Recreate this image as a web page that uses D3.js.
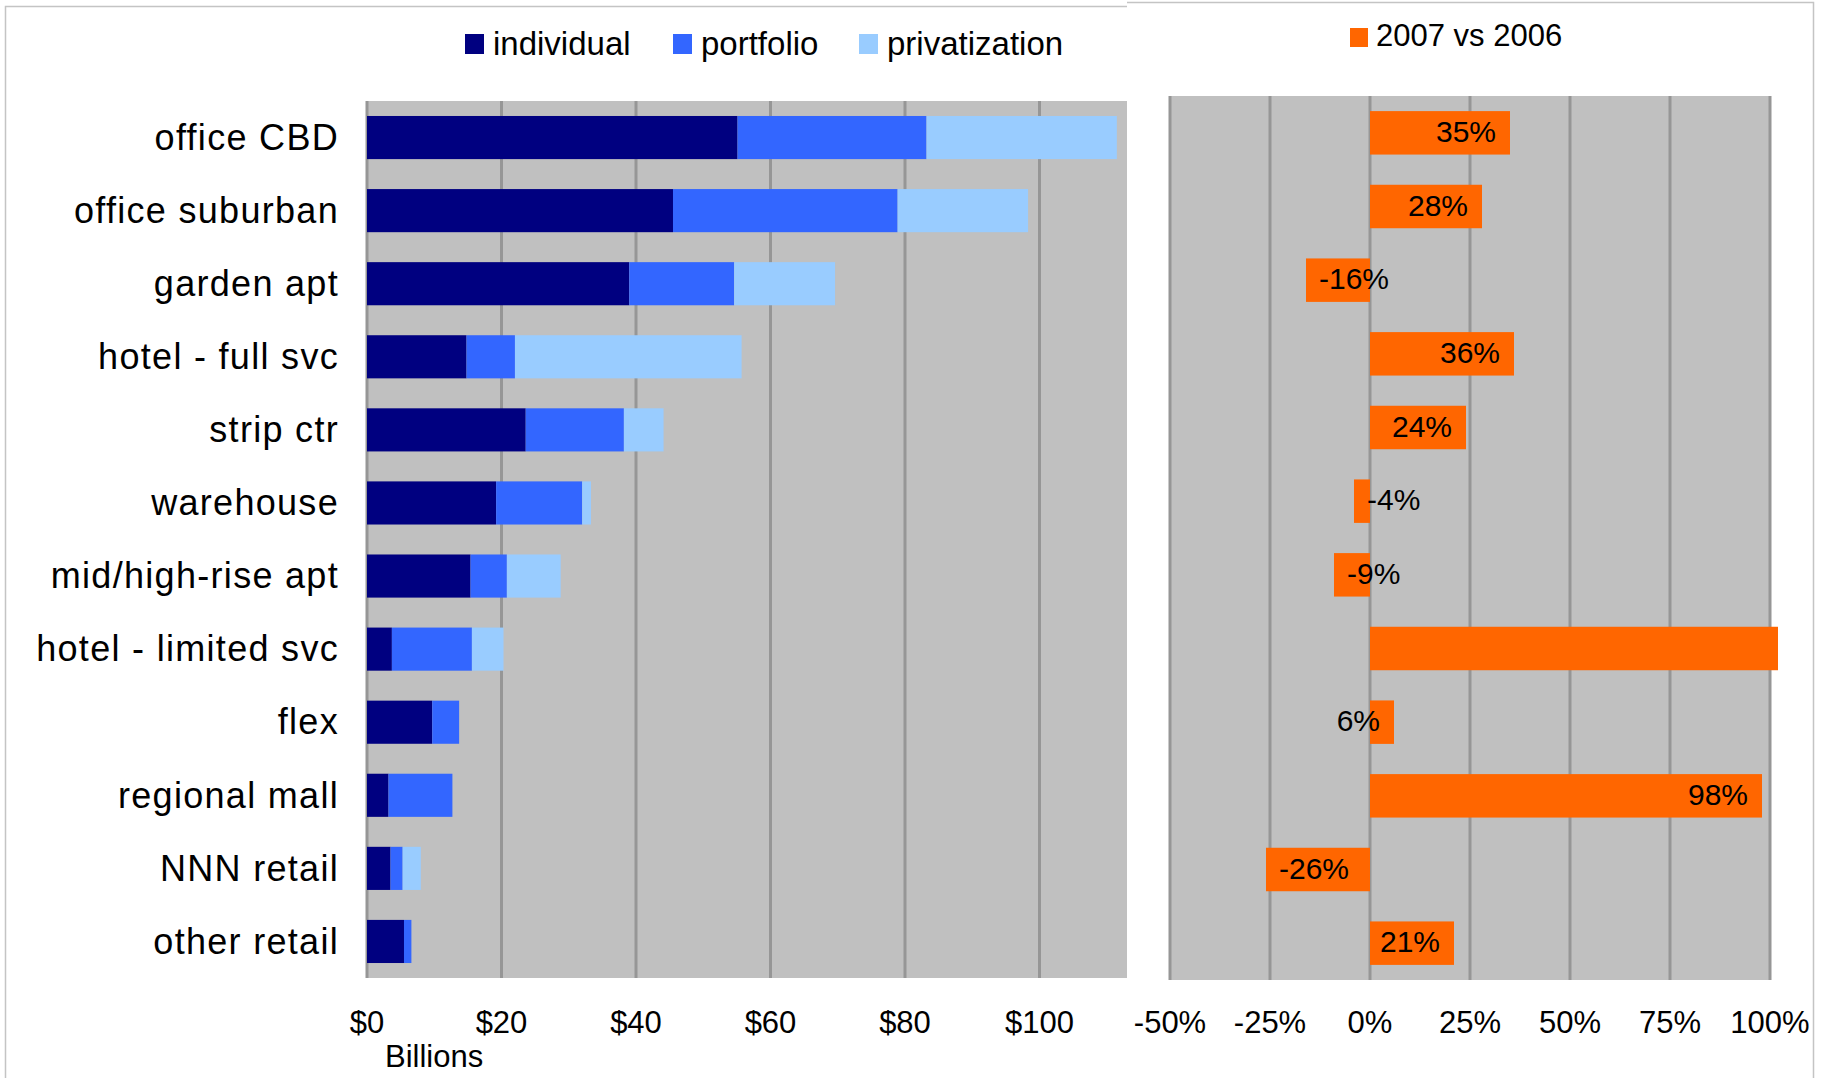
<!DOCTYPE html>
<html>
<head>
<meta charset="utf-8">
<script src="https://cdn.jsdelivr.net/npm/d3@7"></script>
<style>
  body { margin: 0; background: #fff; }
  text { font-family: "Liberation Sans", Arial, sans-serif; fill: #000; }
</style>
</head>
<body>
<div id="chart"></div>
<script>
// categories, top to bottom
var categories = ["office CBD", "office suburban", "garden apt", "hotel - full svc", "strip ctr",
  "warehouse", "mid/high-rise apt", "hotel - limited svc", "flex", "regional mall", "NNN retail", "other retail"];

// $ billions
var individual    = [55.1, 45.5, 39.0, 14.8, 23.6, 19.2, 15.4, 3.7, 9.7, 3.2, 3.5, 5.5];
var portfolio     = [28.1, 33.4, 15.6, 7.2, 14.6, 12.8, 5.4, 11.9, 4.0, 9.5, 1.8, 1.1];
var privatization = [28.3, 19.4, 15.0, 33.7, 5.9, 1.3, 8.0, 4.7, 0, 0, 2.7, 0];

// 2007 vs 2006 change, %
var change = [35, 28, -16, 36, 24, -4, -9, 102, 6, 98, -26, 21];
var changeLabels = ["35%", "28%", "-16%", "36%", "24%", "-4%", "-9%", "", "6%", "98%", "-26%", "21%"];

var seriesNames = ["individual", "portfolio", "privatization"];
var seriesColors = ["#000080", "#3366ff", "#99ccff"];

// gridlines run to $120, which sits under the right-hand chart
var dollarTicks = [0, 20, 40, 60, 80, 100, 120];
var dollarTickLabels = ["$0", "$20", "$40", "$60", "$80", "$100"];
var pctTicks = [-50, -25, 0, 25, 50, 75, 100];
var pctTickLabels = ["-50%", "-25%", "0%", "25%", "50%", "75%", "100%"];

var width = 1822, height = 1078;

var svg = d3.select("#chart").append("svg")
    .attr("width", width)
    .attr("height", height);

// ---------- left chart: volume by type ----------
var left = svg.append("g").attr("class", "left");

left.append("rect")
    .attr("x", 5.5).attr("y", 6.5)
    .attr("width", 1200).attr("height", 1100)
    .attr("fill", "#fff").attr("stroke", "#c4c4c4").attr("stroke-width", 1.5);

var x = d3.scaleLinear().domain([0, 120]).range([367, 1174]);
var y = d3.scaleBand().domain(categories).range([101, 978])
    .paddingInner(0.41).paddingOuter(0.205);

left.append("rect")
    .attr("x", x(0)).attr("y", 101)
    .attr("width", x(120) - x(0)).attr("height", 978 - 101)
    .attr("fill", "#c0c0c0");

left.append("g")
    .selectAll("line")
    .data(dollarTicks)
    .enter().append("line")
    .attr("x1", function(d) { return x(d); })
    .attr("x2", function(d) { return x(d); })
    .attr("y1", 101).attr("y2", 978)
    .attr("stroke", "#969696").attr("stroke-width", 3);

var rows = categories.map(function(c, i) {
    return {cat: c, individual: individual[i], portfolio: portfolio[i], privatization: privatization[i]};
});
var stack = d3.stack().keys(seriesNames)(rows);

left.append("g")
    .selectAll("g")
    .data(stack)
    .enter().append("g")
    .attr("fill", function(d, i) { return seriesColors[i]; })
    .selectAll("rect")
    .data(function(d) { return d; })
    .enter().append("rect")
    .attr("x", function(d) { return x(d[0]); })
    .attr("y", function(d) { return y(d.data.cat); })
    .attr("width", function(d) { return x(d[1]) - x(d[0]); })
    .attr("height", y.bandwidth());

left.append("g")
    .selectAll("text")
    .data(categories)
    .enter().append("text")
    .attr("x", 339)
    .attr("y", function(d) { return y(d) + y.bandwidth() / 2; })
    .attr("dy", "0.34em")
    .attr("text-anchor", "end")
    .style("font-size", "36px")
    .style("letter-spacing", "1.3px")
    .text(function(d) { return d; });

left.append("g")
    .selectAll("text")
    .data(dollarTickLabels)
    .enter().append("text")
    .attr("x", function(d, i) { return x(dollarTicks[i]); })
    .attr("y", 1033)
    .attr("text-anchor", "middle")
    .style("font-size", "31px")
    .text(function(d) { return d; });

left.append("text")
    .attr("x", 385).attr("y", 1067)
    .style("font-size", "31px")
    .text("Billions");

// legend
var legendX = [465, 673, 859];
var leg = left.append("g")
    .selectAll("g")
    .data(seriesNames)
    .enter().append("g")
    .attr("transform", function(d, i) { return "translate(" + legendX[i] + ",0)"; });
leg.append("rect")
    .attr("x", 0).attr("y", 34)
    .attr("width", 19).attr("height", 20)
    .attr("fill", function(d, i) { return seriesColors[i]; });
leg.append("text")
    .attr("x", 28).attr("y", 55)
    .style("font-size", "33px")
    .text(function(d) { return d; });

// ---------- right chart: change vs prior year ----------
var right = svg.append("g").attr("class", "right");

right.append("rect")
    .attr("x", 1127).attr("y", 2.5)
    .attr("width", 1813.5 - 1127).attr("height", 1100)
    .attr("fill", "#fff");
right.append("path")
    .attr("d", "M1127,2.5H1813.5V1078")
    .attr("fill", "none").attr("stroke", "#c4c4c4").attr("stroke-width", 1.5);

var x2 = d3.scaleLinear().domain([-50, 100]).range([1170, 1770]);
var y2 = d3.scaleBand().domain(categories).range([96, 980])
    .paddingInner(0.41).paddingOuter(0.205);

right.append("rect")
    .attr("x", x2(-50)).attr("y", 96)
    .attr("width", x2(100) - x2(-50)).attr("height", 980 - 96)
    .attr("fill", "#c0c0c0");

right.append("g")
    .selectAll("line")
    .data(pctTicks)
    .enter().append("line")
    .attr("x1", function(d) { return x2(d); })
    .attr("x2", function(d) { return x2(d); })
    .attr("y1", 96).attr("y2", 980)
    .attr("stroke", "#969696").attr("stroke-width", 3);

right.append("g")
    .selectAll("rect")
    .data(change)
    .enter().append("rect")
    .attr("x", function(d) { return x2(Math.min(0, d)); })
    .attr("y", function(d, i) { return y2(categories[i]); })
    .attr("width", function(d) { return Math.abs(x2(d) - x2(0)); })
    .attr("height", y2.bandwidth())
    .attr("fill", "#ff6600");

right.append("g")
    .selectAll("text")
    .data(change)
    .enter().append("text")
    .attr("x", function(d) { return d >= 0 ? x2(d) - 14 : x2(d) + 13; })
    .attr("y", function(d, i) { return y2(categories[i]) + y2.bandwidth() / 2; })
    .attr("dy", "0.3em")
    .attr("text-anchor", function(d) { return d >= 0 ? "end" : "start"; })
    .style("font-size", "30px")
    .text(function(d, i) { return changeLabels[i]; });

right.append("g")
    .selectAll("text")
    .data(pctTicks)
    .enter().append("text")
    .attr("x", function(d) { return x2(d); })
    .attr("y", 1033)
    .attr("text-anchor", "middle")
    .style("font-size", "31px")
    .text(function(d, i) { return pctTickLabels[i]; });

right.append("rect")
    .attr("x", 1350).attr("y", 28)
    .attr("width", 18).attr("height", 19)
    .attr("fill", "#ff6600");
right.append("text")
    .attr("x", 1376).attr("y", 46)
    .style("font-size", "31px")
    .text("2007 vs 2006");
</script>
</body>
</html>
